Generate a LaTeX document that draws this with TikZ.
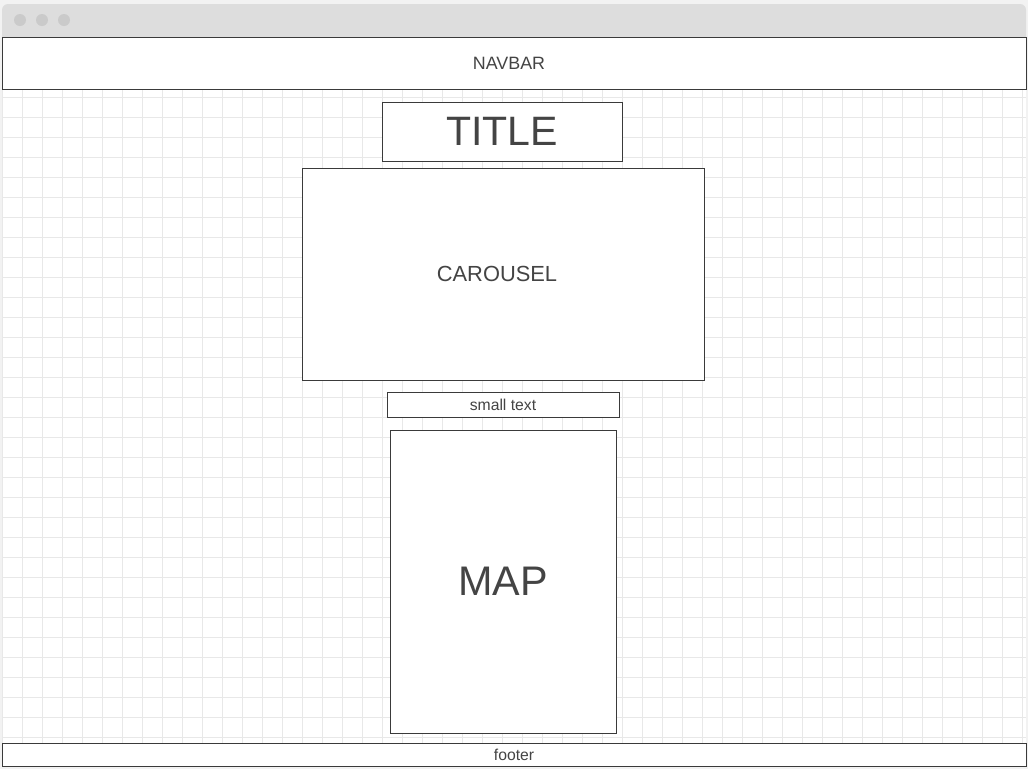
\documentclass[tikz,border=0pt]{standalone}
\usepackage{fontspec}
\setmainfont{Liberation Sans}
\definecolor{MockInk}{HTML}{444444}
\definecolor{MockLine}{HTML}{3A3A3A}
\definecolor{MockGrid}{HTML}{E8E8E8}
\definecolor{MockBar}{HTML}{DDDDDD}
\definecolor{MockDot}{HTML}{CACACA}
\definecolor{MockBack}{HTML}{F2F2F2}
\tikzset{
  block/.style={
    draw=MockLine,
    fill=white,
    line width=0.6pt,
    inner sep=0pt,
    text=MockInk
  },
  gridline/.style={
    draw=MockGrid,
    line width=0.55pt
  },
  winbutton/.style={
    circle,
    fill=MockDot,
    minimum size=9pt,
    inner sep=0pt
  }
}

\begin{document}
\begin{tikzpicture}[x=0.75pt,y=-0.75pt]
  \useasboundingbox (0,0) rectangle (1028,769);
  \fill[MockBack] (0,0) rectangle (1028,769);

  % Window chrome: title bar and its three buttons.
  \fill[MockBar,rounded corners=4.5pt] (2,4) rectangle (1026,45);
  \node[winbutton] (btn-close) at (20,20) {};
  \node[winbutton] (btn-min) at (42,20) {};
  \node[winbutton] (btn-max) at (64,20) {};

  % Page canvas with the layout grid.
  \fill[white] (2,89) rectangle (1026,743);
  \foreach \gx in {2,22,...,1026}
    \draw[gridline] (\gx,89) -- (\gx,743);
  \foreach \gy in {97,117,...,737}
    \draw[gridline] (2,\gy) -- (1026,\gy);

  % Page sections, top to bottom.
  \node[block,minimum width=768pt,minimum height=39pt,
    font=\fontsize{13.4}{15}\selectfont] (navbar) at (514,63)
    {NAVBAR\hspace*{7.5pt}};
  \node[block,minimum width=180pt,minimum height=44.25pt,
    font=\fontsize{30.8}{34}\selectfont] (title) at (502,131.5) {TITLE};
  \node[block,minimum width=301.5pt,minimum height=159pt,
    font=\fontsize{16.4}{19}\selectfont] (carousel) at (503,274)
    {CAROUSEL\hspace*{9pt}};
  \node[block,minimum width=174pt,minimum height=18.75pt,
    font=\fontsize{11.8}{13}\selectfont] (smalltext) at (503,404.5) {small text};
  \node[block,minimum width=169.5pt,minimum height=227.25pt,
    font=\fontsize{31}{35}\selectfont] (map) at (503,581.5) {MAP};
  \node[block,minimum width=768pt,minimum height=17.25pt,
    font=\fontsize{11.8}{13}\selectfont] (footer) at (514,754.5) {footer};
\end{tikzpicture}
\end{document}
